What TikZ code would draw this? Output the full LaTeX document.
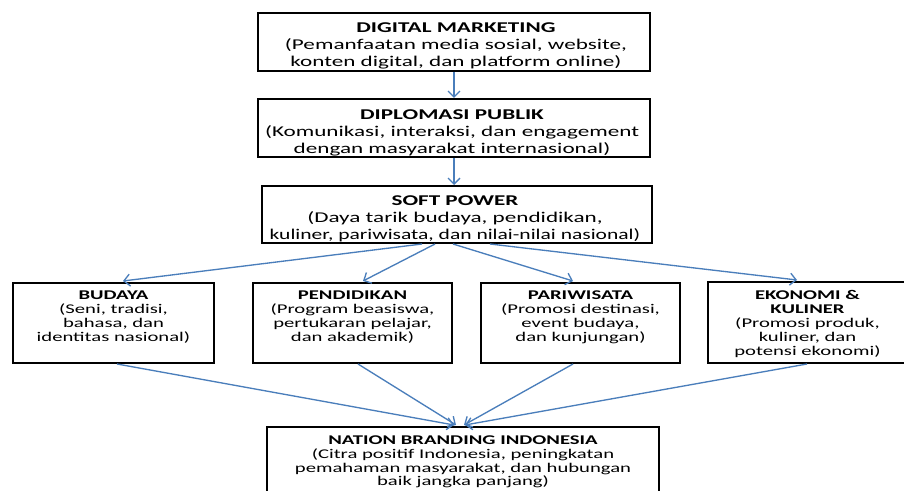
\documentclass[tikz,border=0pt]{standalone}
\usepackage{fontspec}
\setmainfont{Carlito}[FakeStretch=1.55]
\usetikzlibrary{arrows.meta,calc}
\definecolor{arrowblue}{RGB}{74,126,187}
\begin{document}
\begin{tikzpicture}[x=0.75pt,y=-0.75pt,
  box/.style 2 args={draw=black,line width=1.5pt,rectangle,inner sep=0pt,
    minimum width=#1*0.75pt,minimum height=#2*0.75pt},
  bigtxt/.style={align=center,inner sep=0pt,anchor=north,
    font=\fontsize{11.2}{12.75}\selectfont},
  smalltxt/.style={align=center,inner sep=0pt,anchor=north,
    font=\fontsize{10}{10.35}\selectfont},
  arr/.style={draw=arrowblue,line width=1pt,
    -{Straight Barb[length=4.5pt,width=9pt]}}
]
\useasboundingbox (0,0) rectangle (904,491);
\clip (0,0) rectangle (904,491);
\fill[white] (0,0) rectangle (904,491);

% boxes
\node[box={392}{58}] (dm) at (454,42) {};
\node[box={392}{58}] (dp) at (454,128) {};
\node[box={390}{57}] (sp) at (457,214.5) {};
\node[box={201}{80}] (bud) at (113.5,323) {};
\node[box={199}{80}] (pen) at (352.5,323) {};
\node[box={199}{80}] (par) at (580.5,323) {};
\node[box={199}{81}] (eko) at (807.5,322.5) {};
\node[box={392}{80}] (nat) at (463,467) {};

% texts
\node[bigtxt] (dmt) at (456,22.4) {\textbf{DIGITAL MARKETING}\\(Pemanfaatan media sosial, website,\\konten digital, dan platform online)};
\node[bigtxt] (dpt) at (452,109.4) {\textbf{DIPLOMASI PUBLIK}\\(Komunikasi, interaksi, dan engagement\\dengan masyarakat internasional)};
\node[bigtxt] (spt) at (455,195.4) {\textbf{SOFT POWER}\\(Daya tarik budaya, pendidikan,\\\scalebox{0.93}[1]{kuliner, pariwisata, dan nilai-nilai nasional)}};
\node[smalltxt] (budt) at (113.5,290.9) {\textbf{BUDAYA}\\(Seni, tradisi,\\bahasa, dan\\identitas nasional)};
\node[smalltxt] (pent) at (352.5,290.9) {\textbf{PENDIDIKAN}\\(Program beasiswa,\\pertukaran pelajar,\\dan akademik)};
\node[smalltxt] (part) at (580.5,290.9) {\textbf{PARIWISATA}\\(Promosi destinasi,\\event budaya,\\dan kunjungan)};
\node[smalltxt] (ekot) at (807.5,290.4) {\textbf{EKONOMI \&}\\\textbf{KULINER}\\(Promosi produk,\\kuliner, dan\\potensi ekonomi)};
\node[smalltxt] (natt) at (463,435.4) {\textbf{NATION BRANDING INDONESIA}\\(Citra positif Indonesia, peningkatan\\pemahaman masyarakat, dan hubungan\\baik jangka panjang)};

% connectors
\draw[arr] (dm.south) -- (dp.north);
\draw[arr] (dp.south) -- (dp.south |- sp.north);
\draw[arr] ($(sp.south)+(-35,0)$) -- ($(bud.north)+(9.5,-1)$);
\draw[arr] ($(sp.south)+(-22,0)$) -- ($(pen.north)+(10.5,-1)$);
\draw[arr] ($(sp.south)+(-4,0)$) -- ($(par.north)+(-7.5,-1)$);
\draw[arr] ($(sp.south)+(33,0)$) -- ($(eko.north)+(-10.5,-1)$);
\draw[arr] ($(bud.south)+(3.5,0)$) -- ($(nat.north)+(-9,-1)$);
\draw[arr] ($(pen.south)+(5.5,0)$) -- ($(nat.north)+(-7,-1)$);
\draw[arr] ($(par.south)+(-7.5,0)$) -- ($(nat.north)+(1,-1)$);
\draw[arr] ($(eko.south)+(-0.5,0)$) -- ($(nat.north)+(2,-1)$);
\end{tikzpicture}
\end{document}
